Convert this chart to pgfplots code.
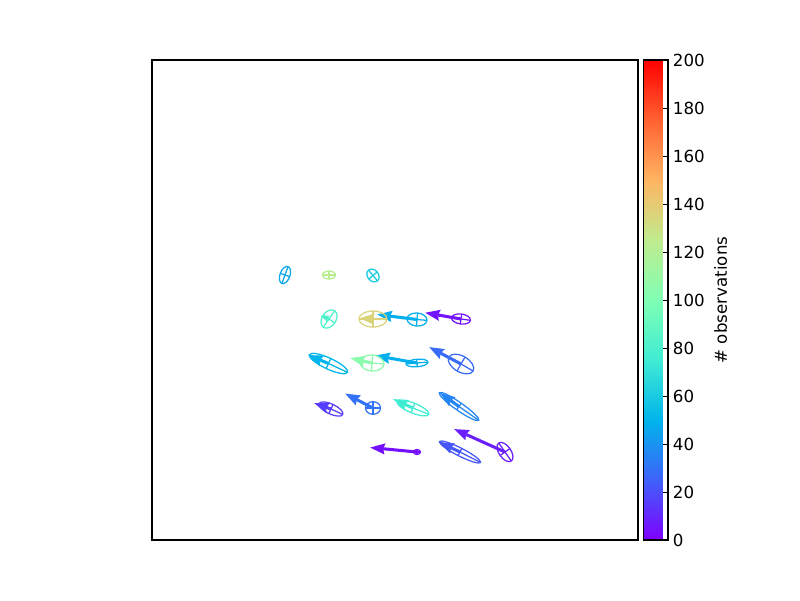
\documentclass[border=0pt]{standalone}
\usepackage{fontspec}
\setmainfont{DejaVu Sans}
\usepackage{pgfplots}
\usepackage{pgfplotstable}
\pgfplotsset{compat=1.18}
\usetikzlibrary{arrows.meta,shapes.geometric}
\pgfdeclareplotmark{emptymark}{}

\pgfplotsset{/pgf/number format/assume math mode=true}

% ellipses: centre (px), semi-axes (px), rotation (deg, ccw on screen), # observations
\pgfplotstableread{
x     y     a    b    rot  c
285   275   9    5    70   46
329   275   6.5  4    0    122
373   275.5 7    5.5  -50  60
329   319   10   7    55   82
373   319   14   8    0    136
417   319.5 10   6.5  -5   48
461   319   9.5  5    -8   5
328.5 363.5 21   5.5  -25  50
372   363   12   8    -5   105
417   363   11   3.8  5    48
461   364   14   8    -30  28
331   409   13   5    -25  16
373   408   7.5  6.3  0    30
413   408   17   5    -22  75
459   406.5 24   4    -35  36
417   452   3.5  2.5  0    4
460   452   23   4    -27  22
505   452   11   6    -55  8
}\ellTable

% arrows: origin (px), displacement (px), # observations
\pgfplotstableread{
x     y     u     v     c
373   319   -13.7 -0.7  136
417   319.5 -40   -5    48
461   319   -36   -6.3  5
328.5 363.5 -20.5 -8.5  50
372   363   -22   -5    105
417   363   -42   -7.5  48
461   364   -32   -17   28
331   409   -17   -6    16
373   408   -28   -14.5 30
413   408   -20   -9    75
459   406.5 -19   -13.5 36
417   452   -47   -4.5  4
460   452   -21   -10   22
505   452   -51   -23   8
}\arrTable

\pgfplotstableread{
x     y     u     v     c
329   319   -8.6  -3.3  82
}\shortTable

\begin{document}
\begin{tikzpicture}
\useasboundingbox (0,0) rectangle (576pt,432pt);
\begin{axis}[
  at={(109.44pt,43.2pt)}, anchor=south west,
  width=349.92pt, height=345.6pt, scale only axis,
  xmin=152, xmax=638, ymin=60, ymax=540, y dir=reverse,
  xtick=\empty, ytick=\empty,
  axis line style={line width=0.8pt},
  colormap={mplrainbow}{rgb=(0.5,0,1) rgb=(0.25,0.3827,0.9808) rgb=(0,0.7071,0.9239) rgb=(0.25,0.9239,0.8315) rgb=(0.5,1,0.7071) rgb=(0.75,0.9239,0.5556) rgb=(1,0.7071,0.3827) rgb=(1,0.3827,0.1951) rgb=(1,0,0)},
  point meta min=0, point meta max=200,
  colorbar,
  colorbar style={
    at={(parent axis.north east)}, anchor=north west, xshift=-4.9pt,
    width=18pt,
    ytick={0,20,...,200},
    ytick pos=right, yticklabel pos=right,
    tick align=inside,
    major tick length=3.4pt,
    tick style={black, line width=0.6pt},
    axis line style={line width=0.8pt},
    yticklabel style={font=\fontsize{12}{14}\selectfont},
    ylabel={\# observations},
    ylabel style={font=\fontsize{12}{14}\selectfont},
  },
]
\addplot[scatter, only marks, mark=emptymark,
  point meta=\thisrow{c},
  visualization depends on={\thisrow{a} \as \ellA},
  visualization depends on={\thisrow{b} \as \ellB},
  visualization depends on={\thisrow{rot} \as \ellR},
  nodes near coords*={},
  nodes near coords align={center},
  every node near coord/.append style={
    ellipse, draw=mapped color, line width=0.9pt, inner sep=0pt, outer sep=0pt,
    minimum width=2*\ellA*0.72pt, minimum height=2*\ellB*0.72pt,
    rotate=\ellR, anchor=center,
    append after command={
      (\tikzlastnode.west) edge[draw=mapped color, line width=0.9pt] (\tikzlastnode.east)
      (\tikzlastnode.north) edge[draw=mapped color, line width=0.9pt] (\tikzlastnode.south)
    }
  },
] table[x=x, y=y] {\ellTable};

\addplot[point meta=\thisrow{c},
  quiver={u=\thisrow{u}, v=\thisrow{v}, colored=mapped color,
    every arrow/.append style={line width=2.2pt, -{Stealth[length=10.5pt, width=7.5pt, inset=1pt]}}},
] table[x=x, y=y] {\arrTable};

\addplot[point meta=\thisrow{c},
  quiver={u=\thisrow{u}, v=\thisrow{v}, colored=mapped color,
    every arrow/.append style={line width=1.4pt, -{Stealth[length=6pt, width=4.5pt, inset=0.6pt]}}},
] table[x=x, y=y] {\shortTable};
\end{axis}
\end{tikzpicture}
\end{document}
